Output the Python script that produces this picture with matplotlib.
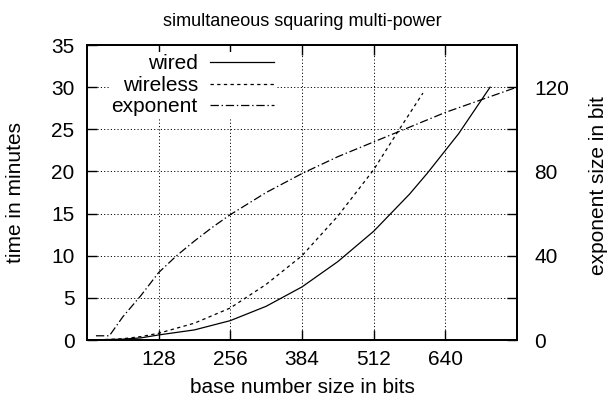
import numpy as np
import matplotlib
matplotlib.use('Agg')
import matplotlib.pyplot as plt

plt.rcParams['font.family'] = ['Liberation Sans', 'DejaVu Sans']
plt.rcParams['font.size'] = 15
plt.rcParams['lines.scale_dashes'] = False

# wired timings (minutes)
wired_bits = [32, 64, 96, 128, 192, 256, 320, 384, 448, 512, 576, 608, 664, 720]
wired_time = [0.05, 0.1, 0.25, 0.6, 1.2, 2.3, 4.0, 6.3, 9.3, 12.9, 17.3, 19.8, 24.5, 30.0]

# wireless timings (minutes)
wireless_bits = [32, 64, 96, 128, 192, 256, 320, 384, 448, 512, 556, 600]
wireless_time = [0.05, 0.15, 0.4, 0.8, 2.0, 3.8, 6.6, 10.0, 14.7, 20.2, 24.8, 29.3]

# exponent size (bits, right axis)
exp_bits = [16, 40, 64, 96, 128, 160, 192, 224, 256, 320, 384, 448, 512, 576, 640, 704, 768]
exp_size = [2, 2, 11, 21, 32, 40, 47, 53.5, 59.5, 70, 79, 87, 94, 101, 108, 114, 120]

xticks = [128, 256, 384, 512, 640]
yticks = [0, 5, 10, 15, 20, 25, 30, 35]
y2ticks = [0, 40, 80, 120]
y2minor = [20, 60, 100]

fig = plt.figure(figsize=(6.07, 4.04), dpi=100)
ax = fig.add_subplot(111)
fig.subplots_adjust(left=0.1433, right=0.8517, top=0.8886, bottom=0.1584)
ax2 = ax.twinx()

# dotted grid, kept under the legend box
grid_style = dict(color='black', lw=0.7, dashes=(0.8, 1.6), zorder=1)
for x in xticks:
    ax.axvline(x, **grid_style)
for y in yticks[1:-1]:
    ax.axhline(y, **grid_style)

ax.plot(wired_bits, wired_time, color='black', lw=0.9, label='wired')
ax.plot(wireless_bits, wireless_time, color='black', lw=0.9, dashes=(2.4, 2.4), label='wireless')
# exponent goes on right axis, proxy line for the legend
ax2.plot(exp_bits, exp_size, color='black', lw=0.9, dashes=(6, 2, 1, 2))
ax.plot([], [], color='black', lw=0.9, dashes=(6, 2, 1, 2), label='exponent')

ax.set_xlim(0, 768)
ax.set_ylim(0, 35)
ax2.set_ylim(0, 140)
ax.set_xticks(xticks)
ax.set_yticks(yticks)
ax2.set_yticks(y2ticks)
ax2.set_yticks(y2minor, minor=True)

ax.tick_params(axis='x', direction='in', length=7, width=1, top=True, pad=7.5)
ax.tick_params(axis='y', direction='in', length=7, width=1, right=False, pad=9)
ax2.tick_params(which='both', direction='in', length=7, width=1, pad=12.5)
for a in (ax, ax2):
    for s in a.spines.values():
        s.set_linewidth(1.3)

ax.set_title('simultaneous squaring multi-power', fontsize=13, pad=14)
ax.set_xlabel('base number size in bits')
ax.xaxis.set_label_coords(0.5, -0.129)
ax.set_ylabel('time in minutes')
ax.yaxis.set_label_coords(-0.143, 0.5)
ax2.set_ylabel('exponent size in bit')
ax2.yaxis.set_label_coords(1.167, 0.522)

ax.set_zorder(ax2.get_zorder() + 1)
ax.patch.set_visible(False)
leg = ax.legend(loc='upper right', bbox_to_anchor=(0.4395, 0.975), markerfirst=False,
                frameon=True, framealpha=1, fancybox=False, edgecolor='white',
                handlelength=3.07, handletextpad=0.58, labelspacing=0.12,
                borderaxespad=0, borderpad=0.1)
leg.get_frame().set_linewidth(0)
leg.set_zorder(2.2)

fig.savefig('out.png', dpi=100)
